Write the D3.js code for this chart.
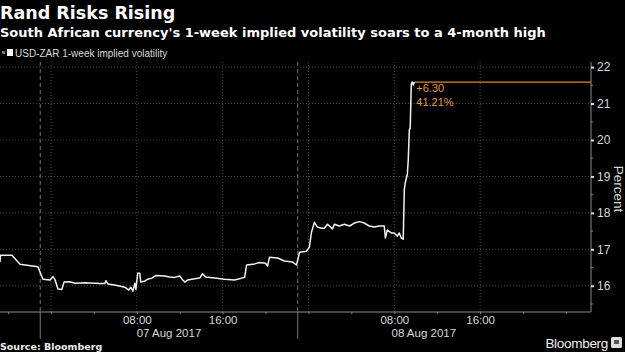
<!DOCTYPE html>
<html>
<head>
<meta charset="utf-8">
<script src="https://cdn.jsdelivr.net/npm/d3@7/dist/d3.min.js"></script>
<style>
  html, body { margin: 0; padding: 0; background: #000; }
  svg { display: block; }
  .tick text { font-family: 'Liberation Sans', Arial, sans-serif; }
</style>
</head>
<body>
<div id="main"></div>
<script>
// data (times are UTC)
const stamps = [
  '2017-08-06T19:15', '2017-08-06T19:18', '2017-08-06T20:22', '2017-08-06T21:07', '2017-08-06T22:47',
  '2017-08-06T23:15', '2017-08-06T23:55', '2017-08-07T00:11', '2017-08-07T00:22', '2017-08-07T00:39',
  '2017-08-07T01:01', '2017-08-07T01:13', '2017-08-07T01:46', '2017-08-07T02:14', '2017-08-07T03:10',
  '2017-08-07T04:34', '2017-08-07T05:01', '2017-08-07T05:07', '2017-08-07T05:18', '2017-08-07T05:57',
  '2017-08-07T06:53', '2017-08-07T07:15', '2017-08-07T07:26', '2017-08-07T07:38', '2017-08-07T07:49',
  '2017-08-07T07:55', '2017-08-07T08:05', '2017-08-07T08:17', '2017-08-07T08:22', '2017-08-07T08:45',
  '2017-08-07T09:01', '2017-08-07T09:24', '2017-08-07T09:46', '2017-08-07T10:36', '2017-08-07T11:04',
  '2017-08-07T11:32', '2017-08-07T12:00', '2017-08-07T12:17', '2017-08-07T12:28', '2017-08-07T12:45',
  '2017-08-07T13:24', '2017-08-07T13:52', '2017-08-07T14:08', '2017-08-07T14:25', '2017-08-07T15:15',
  '2017-08-07T16:11', '2017-08-07T17:07', '2017-08-07T18:03', '2017-08-07T18:14', '2017-08-07T18:59',
  '2017-08-07T19:27', '2017-08-07T20:00', '2017-08-07T20:11', '2017-08-07T20:22', '2017-08-07T21:07',
  '2017-08-07T21:46', '2017-08-07T22:31', '2017-08-07T22:53', '2017-08-07T23:10', '2017-08-07T23:49',
  '2017-08-08T00:05', '2017-08-08T00:17', '2017-08-08T00:33', '2017-08-08T00:50', '2017-08-08T01:13',
  '2017-08-08T01:29', '2017-08-08T01:46', '2017-08-08T01:57', '2017-08-08T02:14', '2017-08-08T02:25',
  '2017-08-08T02:53', '2017-08-08T03:21', '2017-08-08T03:49', '2017-08-08T04:17', '2017-08-08T04:45',
  '2017-08-08T05:13', '2017-08-08T05:40', '2017-08-08T06:08', '2017-08-08T06:36', '2017-08-08T07:04',
  '2017-08-08T07:10', '2017-08-08T07:21', '2017-08-08T07:43', '2017-08-08T08:00', '2017-08-08T08:17',
  '2017-08-08T08:28', '2017-08-08T08:39', '2017-08-08T08:50', '2017-08-08T08:56', '2017-08-08T09:01',
  '2017-08-08T09:13', '2017-08-08T09:18', '2017-08-08T09:24', '2017-08-08T09:29', '2017-08-08T09:35',
  '2017-08-08T09:40', '2017-08-08T09:46', '2017-08-08T09:52'
];
const vols = [
  16.65, 16.84, 16.84, 16.59, 16.52,
  16.18, 16.16, 16.25, 16.18, 15.91,
  15.90, 16.10, 16.11, 16.07, 16.08,
  16.06, 16.06, 16.14, 16.05, 16.02,
  15.96, 15.88, 15.96, 15.85, 16.07,
  15.90, 16.34, 16.34, 16.10, 16.13,
  16.18, 16.21, 16.28, 16.27, 16.24,
  16.23, 16.27, 16.16, 16.10, 16.16,
  16.19, 16.21, 16.33, 16.24, 16.21,
  16.18, 16.16, 16.23, 16.57, 16.60,
  16.64, 16.62, 16.54, 16.78, 16.76,
  16.68, 16.65, 16.57, 16.92, 16.95,
  17.06, 17.47, 17.74, 17.61, 17.58,
  17.58, 17.69, 17.64, 17.56, 17.69,
  17.64, 17.69, 17.64, 17.72, 17.76,
  17.72, 17.64, 17.61, 17.64, 17.64,
  17.31, 17.53, 17.45, 17.45, 17.36,
  17.45, 17.31, 17.28, 18.63, 18.82,
  19.06, 19.45, 20.27, 20.33, 21.53,
  21.59, 21.51, 21.59
];
const yTicks = [16, 17, 18, 19, 20, 21, 22];
const timeLabels = ['08:00', '16:00'];
const dayLabels = ['07 Aug 2017', '08 Aug 2017'];
const dayBreaks = ['2017-08-06T23:00', '2017-08-07T23:00', '2017-08-08T22:30'];
const gridTimes = [
  '2017-08-07T00:00', '2017-08-07T08:00', '2017-08-07T16:00',
  '2017-08-08T00:00', '2017-08-08T08:00', '2017-08-08T16:00'
];
const change = '+6.30';
const changePct = '41.21%';

!(function () {
  'use strict';

  let svg, xScale, yScale;
  const parse = d3.utcParse('%Y-%m-%dT%H:%M');
  const series = stamps.map((s, i) => ({ t: parse(s), v: vols[i] }));

  const canvas = {
    context: '#main',
    width: 625,
    height: 352,
    plot: { left: 0, right: 591, top: 62, bottom: 312 }
  };
  const domain = {
    x: [parse('2017-08-06T19:15'), parse('2017-08-09T02:20')],
    y: [15.28, 22.14]
  };
  const color = {
    text: '#d9d9d9',
    grid: '#4a4a4a',
    axis: '#8c8c8c',
    line: '#f2f2f2',
    accent: '#d98a2b'
  };

  function setCanvas() {
    svg = d3.select(canvas.context).append('svg')
      .attr('width', canvas.width)
      .attr('height', canvas.height)
      .style('background', '#000');
  }

  function setScales() {
    xScale = d3.scaleUtc().domain(domain.x).range([canvas.plot.left, canvas.plot.right]);
    yScale = d3.scaleLinear().domain(domain.y).range([canvas.plot.bottom, canvas.plot.top]);
  }

  function setTitles() {
    svg.append('text').attr('x', 0).attr('y', 19)
      .attr('font-family', 'DejaVu Sans').attr('font-weight', 'bold')
      .attr('font-size', 17.5).attr('fill', '#fff')
      .text('Rand Risks Rising');
    svg.append('text').attr('x', 0).attr('y', 37)
      .attr('font-family', 'DejaVu Sans').attr('font-weight', 'bold')
      .attr('font-size', 13).attr('fill', '#fff')
      .text("South African currency's 1-week implied volatility soars to a 4-month high");

    // legend
    svg.append('rect').attr('x', 2).attr('y', 51).attr('width', 3).attr('height', 3).attr('fill', '#777');
    svg.append('rect').attr('x', 7).attr('y', 49).attr('width', 6).attr('height', 7).attr('fill', '#fff');
    svg.append('text').attr('x', 15).attr('y', 56.5)
      .attr('font-family', 'Liberation Sans Narrow, Liberation Sans, Arial')
      .attr('font-size', 10).attr('fill', color.text)
      .text('USD-ZAR 1-week implied volatility');

    // footer
    svg.append('text').attr('x', 0).attr('y', 350)
      .attr('font-family', 'DejaVu Sans').attr('font-weight', 'bold')
      .attr('font-size', 9.5).attr('fill', '#eee')
      .text('Source: Bloomberg');
    svg.append('text').attr('x', 608).attr('y', 348).attr('text-anchor', 'end')
      .attr('font-family', 'Liberation Sans, Arial').attr('font-size', 13.5)
      .attr('fill', '#eee').attr('letter-spacing', -0.3)
      .text('Bloomberg');
    svg.append('rect').attr('x', 611).attr('y', 337).attr('width', 11).attr('height', 11)
      .attr('rx', 1.5).attr('fill', '#ddd');
    svg.append('rect').attr('x', 614).attr('y', 340).attr('width', 5).attr('height', 4)
      .attr('fill', '#555');
  }

  function setGrid() {
    const g = svg.append('g');
    g.selectAll('.hgrid').data(yTicks).enter().append('line')
      .attr('x1', canvas.plot.left).attr('x2', canvas.plot.right)
      .attr('y1', d => yScale(d)).attr('y2', d => yScale(d))
      .attr('stroke', color.grid).attr('stroke-dasharray', '1,2');
    g.selectAll('.vgrid').data(gridTimes).enter().append('line')
      .attr('x1', d => xScale(parse(d))).attr('x2', d => xScale(parse(d)))
      .attr('y1', canvas.plot.top).attr('y2', canvas.plot.bottom)
      .attr('stroke', color.grid).attr('stroke-dasharray', '1,2');
    // day separators
    g.selectAll('.sep').data(dayBreaks.slice(0, 2)).enter().append('line')
      .attr('x1', d => xScale(parse(d))).attr('x2', d => xScale(parse(d)))
      .attr('y1', canvas.plot.top).attr('y2', canvas.plot.bottom)
      .attr('stroke', '#777').attr('stroke-dasharray', '4,3');
    g.selectAll('.sepb').data(dayBreaks.slice(0, 2)).enter().append('line')
      .attr('x1', d => xScale(parse(d))).attr('x2', d => xScale(parse(d)))
      .attr('y1', canvas.plot.bottom).attr('y2', 339)
      .attr('stroke', '#777');
  }

  function setXAxis() {
    const ticks = d3.utcHour.every(4).range(domain.x[0], domain.x[1]);
    const fmt = d3.utcFormat('%H:%M');
    const ax = svg.append('g')
      .attr('transform', 'translate(0,' + canvas.plot.bottom + ')')
      .call(d3.axisBottom(xScale)
        .tickValues(ticks)
        .tickSize(2)
        .tickPadding(2)
        .tickFormat(d => timeLabels.indexOf(fmt(d)) >= 0 ? fmt(d) : ''));
    ax.select('.domain').attr('stroke', color.axis).attr('d', 'M' + canvas.plot.left + ',0H' + canvas.plot.right);
    ax.selectAll('.tick line').attr('stroke', color.axis);
    ax.selectAll('.tick text').attr('fill', color.text).attr('font-size', 11.5);

    // date labels, centred between day breaks
    svg.selectAll('.day').data(dayLabels).enter().append('text')
      .attr('x', (d, i) => (xScale(parse(dayBreaks[i])) + xScale(parse(dayBreaks[i + 1]))) / 2)
      .attr('y', 337).attr('text-anchor', 'middle')
      .attr('font-family', 'Liberation Sans, Arial').attr('font-size', 11.5)
      .attr('fill', color.text)
      .text(d => d);
  }

  function setYAxis() {
    const ax = svg.append('g')
      .attr('transform', 'translate(' + canvas.plot.right + ',0)')
      .call(d3.axisRight(yScale).tickValues(yTicks).tickSize(3).tickPadding(3).tickFormat(d3.format('d')));
    ax.select('.domain').attr('stroke', color.axis).attr('d', 'M0,' + canvas.plot.top + 'V' + canvas.plot.bottom);
    ax.selectAll('.tick line').attr('stroke', '#ddd').attr('stroke-width', 2);
    ax.selectAll('.tick text').attr('fill', color.text).attr('font-size', 12);

    // half-step minor ticks
    svg.append('g').selectAll('line').data(yTicks.map(d => d - 0.5)).enter().append('line')
      .attr('x1', canvas.plot.right).attr('x2', canvas.plot.right + 2)
      .attr('y1', d => yScale(d)).attr('y2', d => yScale(d))
      .attr('stroke', color.axis);

    svg.append('text')
      .attr('transform', 'translate(614,' + ((canvas.plot.top + canvas.plot.bottom) / 2 + 2) + ') rotate(90)')
      .attr('text-anchor', 'middle')
      .attr('font-family', 'Liberation Sans, Arial').attr('font-size', 13.5)
      .attr('fill', color.text)
      .text('Percent');
  }

  function setLine() {
    const last = series[series.length - 1];
    svg.append('line')
      .attr('x1', xScale(last.t)).attr('x2', canvas.plot.right)
      .attr('y1', yScale(last.v)).attr('y2', yScale(last.v))
      .attr('stroke', color.accent).attr('stroke-width', 1.2);

    svg.append('path').datum(series)
      .attr('fill', 'none')
      .attr('stroke', color.line)
      .attr('stroke-width', 1.5)
      .attr('stroke-linejoin', 'round')
      .attr('d', d3.line().x(d => xScale(d.t)).y(d => yScale(d.v)));

    const ann = svg.append('g')
      .attr('font-family', 'Liberation Sans, Arial').attr('font-size', 11)
      .attr('fill', '#e39a3c');
    ann.append('text').attr('x', xScale(last.t) + 2).attr('y', yScale(last.v) + 10).text(change);
    ann.append('text').attr('x', xScale(last.t) + 2).attr('y', yScale(last.v) + 24).text(changePct);
  }

  // control
  setCanvas();
  setScales();
  setTitles();
  setGrid();
  setXAxis();
  setYAxis();
  setLine();
}());
</script>
</body>
</html>
